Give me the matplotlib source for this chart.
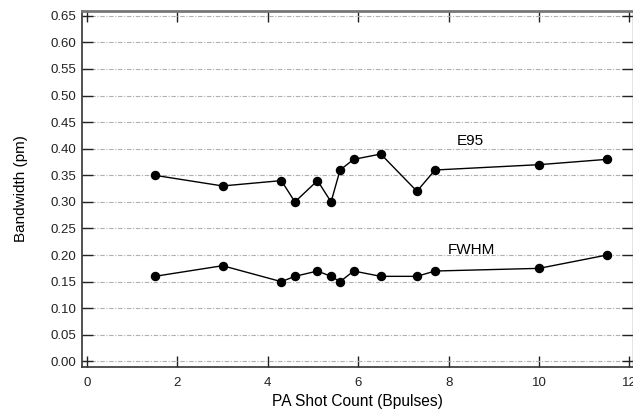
import matplotlib
matplotlib.use("Agg")
import matplotlib.pyplot as plt

shots_e95 = [1.5, 3.0, 4.3, 4.6, 5.1, 5.4, 5.6, 5.9, 6.5, 7.3, 7.7, 10.0, 11.5]
e95 = [0.35, 0.33, 0.34, 0.30, 0.34, 0.30, 0.36, 0.38, 0.39, 0.32, 0.36, 0.37, 0.38]
shots_fwhm = [1.5, 3.0, 4.3, 4.6, 5.1, 5.4, 5.6, 5.9, 6.5, 7.3, 7.7, 10.0, 11.5]
fwhm = [0.16, 0.18, 0.15, 0.16, 0.17, 0.16, 0.15, 0.17, 0.16, 0.16, 0.17, 0.175, 0.20]
xticks = [0, 2, 4, 6, 8, 10, 12]
yticks = [0.00, 0.05, 0.10, 0.15, 0.20, 0.25, 0.30, 0.35, 0.40, 0.45, 0.50, 0.55, 0.60, 0.65]

plt.rcParams['font.family'] = ['Liberation Sans', 'DejaVu Sans']

fig = plt.figure(figsize=(6.33, 4.11), dpi=100)
ax = fig.add_axes([82/633, 1 - 367/411, (633 - 82)/633, (367 - 11)/411])

ax.plot(shots_e95, e95, color='black', lw=1.0, marker='o', ms=5.8, zorder=3)
ax.plot(shots_fwhm, fwhm, color='black', lw=1.0, marker='o', ms=5.8, zorder=3)

ax.text(8.47, 0.414, 'E95', ha='center', va='center', fontsize=11)
ax.text(8.51, 0.210, 'FWHM', ha='center', va='center', fontsize=11)

ax.set_xlim(-0.11, 12.08)
ax.set_ylim(-0.0105, 0.659)
ax.set_xticks(xticks)
ax.set_xticklabels([str(v) for v in xticks])
ax.set_yticks(yticks)
ax.set_yticklabels([f'{v:.2f}' for v in yticks])

ax.grid(True, axis='y', color='#b0b0b0', lw=0.8, linestyle=(0, (4, 1.5, 1, 1.5)))
ax.set_axisbelow(True)

ax.tick_params(axis='both', direction='in', length=8, width=1.0, colors='#222222',
               labelsize=9.5, labelcolor='#222222', top=True, right=True)
ax.tick_params(axis='x', pad=7)
ax.tick_params(axis='y', pad=4)

for s in ['left', 'bottom']:
    ax.spines[s].set_color('#333333')
    ax.spines[s].set_linewidth(1.2)
ax.spines['top'].set_color('#777777')
ax.spines['top'].set_linewidth(2.0)
ax.spines['right'].set_color('#777777')
ax.spines['right'].set_linewidth(1.0)

ax.set_xlabel('PA Shot Count (Bpulses)', fontsize=11.2, labelpad=3.5)
ax.set_ylabel('Bandwidth (pm)', fontsize=11, labelpad=16)

fig.savefig('out.png', dpi=100)
